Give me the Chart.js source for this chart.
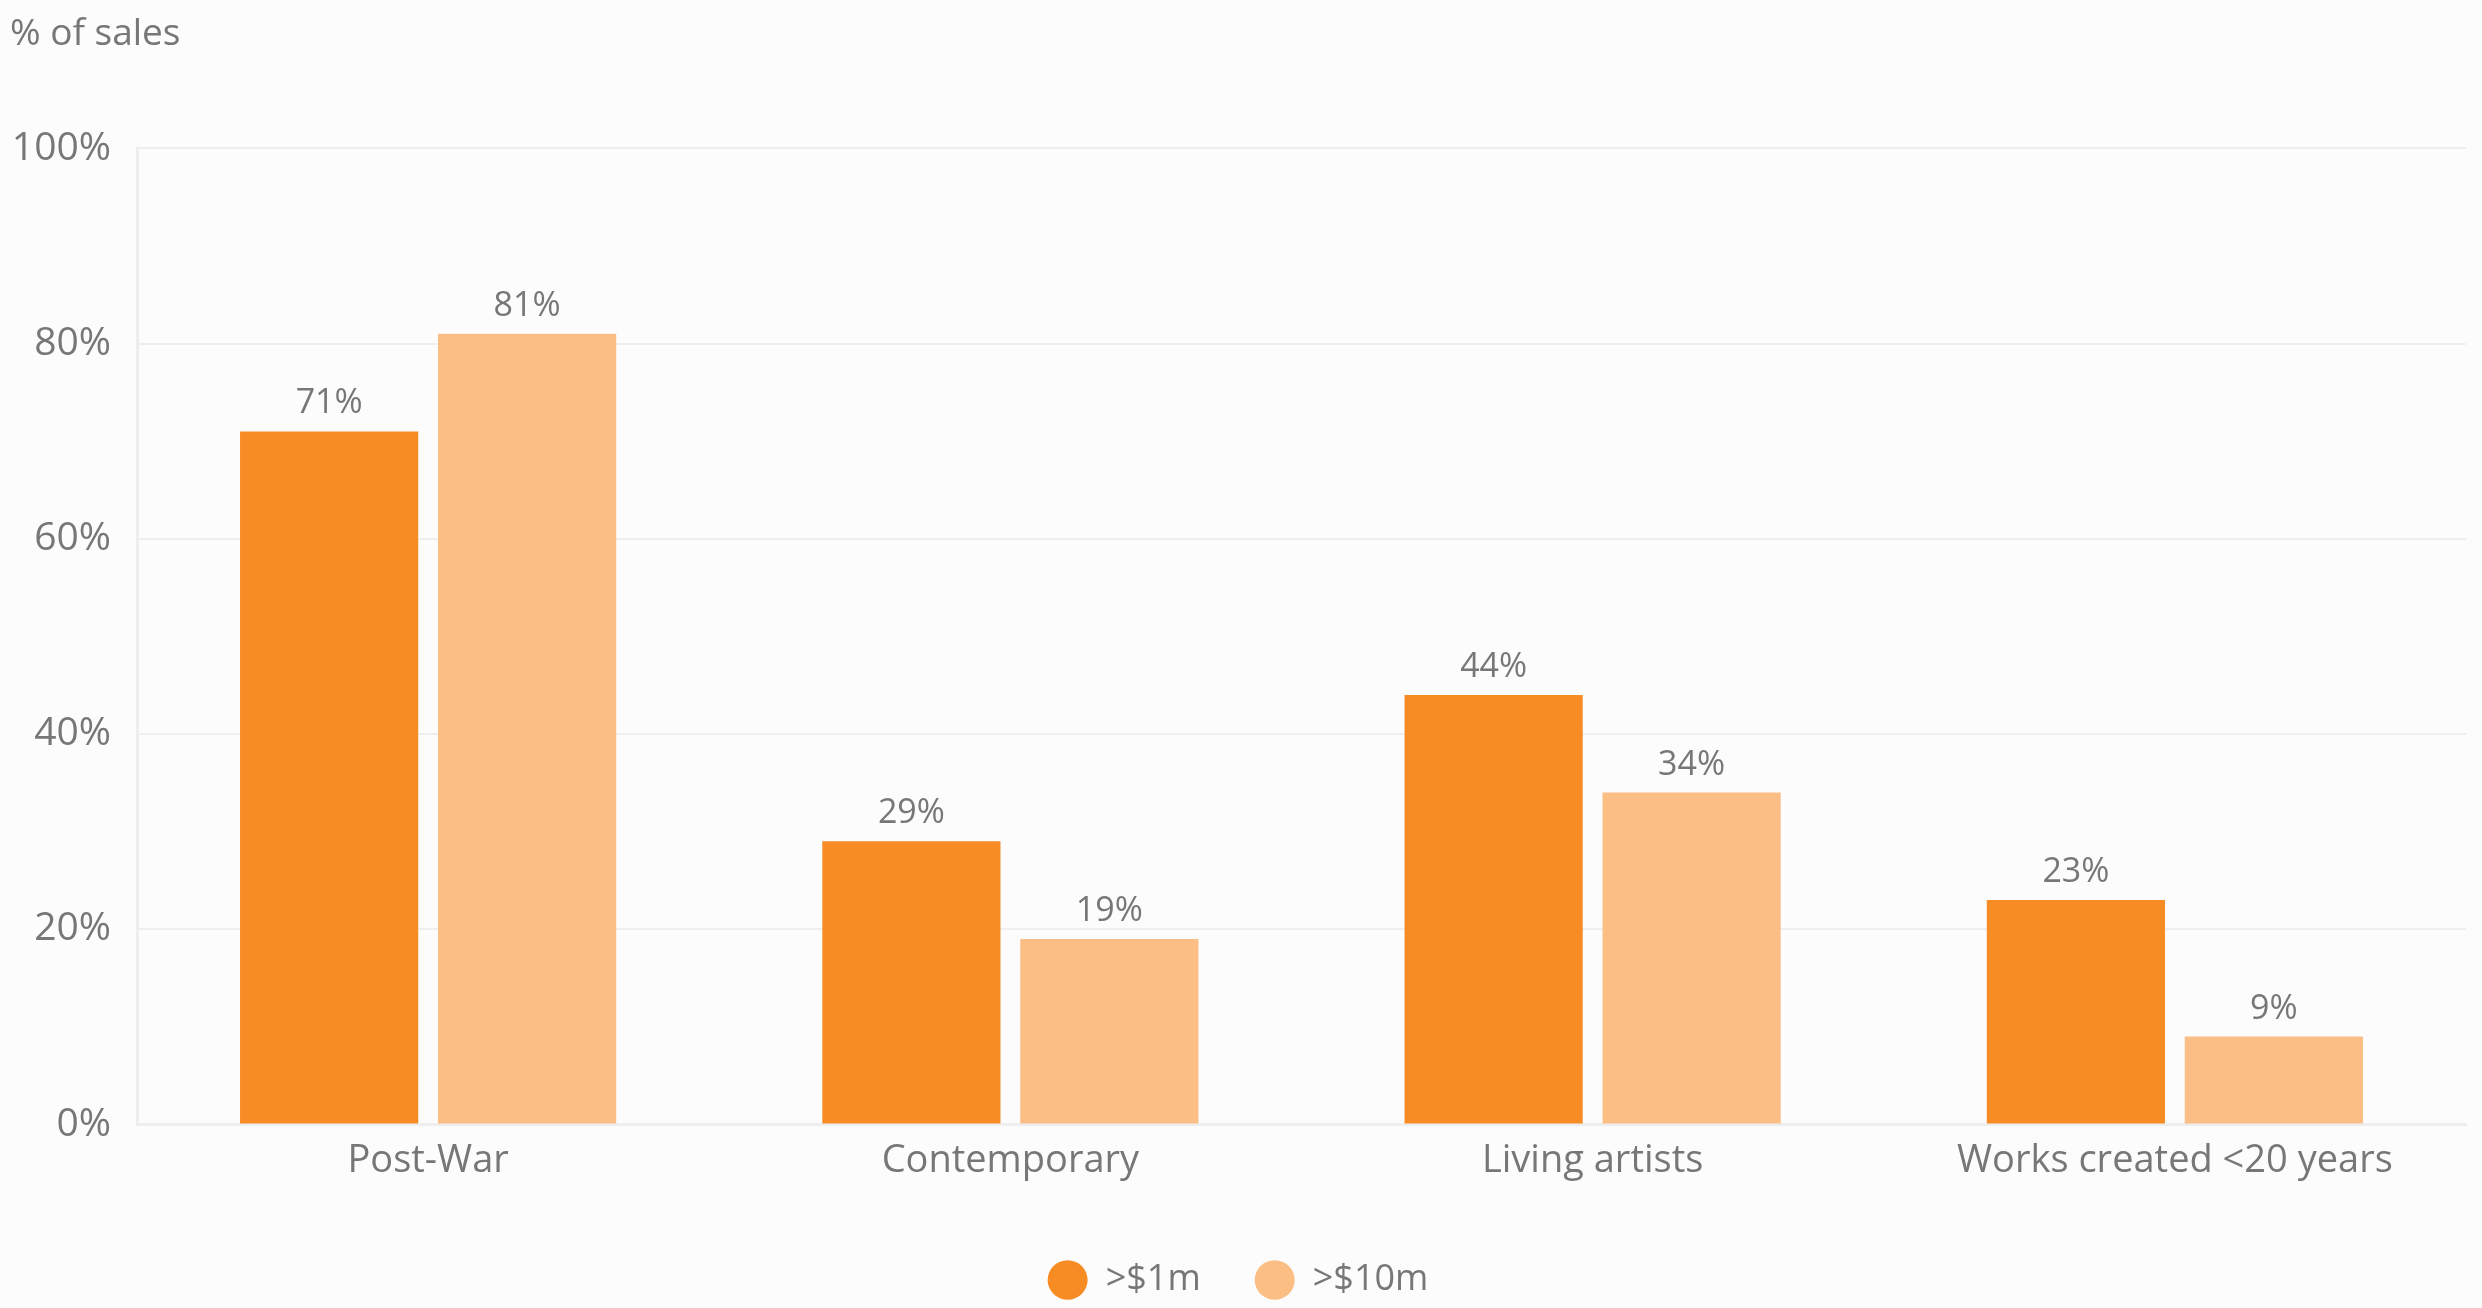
<!DOCTYPE html>
<html>
<head>
<meta charset="utf-8">
<script src="https://cdn.jsdelivr.net/npm/chart.js@4/dist/chart.umd.min.js"></script>
<style>
  html, body { margin: 0; padding: 0; background: #fcfcfc; }
  #wrap { width: 2482px; height: 1308px; }
</style>
</head>
<body>
<div id="wrap"><canvas id="myChart"></canvas></div>
<script>
const categories = ["Post-War", "Contemporary", "Living artists", "Works created <20 years"];
const over1m = [71, 29, 44, 23];
const over10m = [81, 19, 34, 9];
const seriesNames = [">$1m", ">$10m"];
const yTicks = [0, 20, 40, 60, 80, 100];

const grey = "#777777";
const fontFamily = "'Open Sans', 'Noto Sans', sans-serif";

// value labels above each bar
const barLabels = {
  id: "barLabels",
  afterDatasetsDraw(chart) {
    const ctx = chart.ctx;
    ctx.save();
    ctx.font = "34px " + fontFamily;
    ctx.fillStyle = grey;
    ctx.textAlign = "center";
    ctx.textBaseline = "alphabetic";
    chart.data.datasets.forEach(function (ds, i) {
      chart.getDatasetMeta(i).data.forEach(function (bar, j) {
        ctx.fillText(ds.data[j] + "%", bar.x, bar.y - 18);
      });
    });
    ctx.restore();
  },
};

const ctx = document.getElementById("myChart").getContext("2d");
const chart = new Chart(ctx, {
  type: "bar",
  data: {
    labels: categories,
    datasets: [
      { label: seriesNames[0], data: over1m, backgroundColor: "#f78b24" },
      { label: seriesNames[1], data: over10m, backgroundColor: "#fbbe84" },
    ],
  },
  options: {
    responsive: true,
    maintainAspectRatio: false,
    animation: false,
    categoryPercentage: 0.68,
    barPercentage: 0.9,
    layout: { padding: { left: 10, right: 16, bottom: 0 } },
    plugins: {
      tooltip: { enabled: false },
      title: {
        display: true,
        text: "% of sales",
        align: "start",
        color: grey,
        font: { family: fontFamily, size: 37, weight: "normal" },
        padding: { top: 12, bottom: 92 },
      },
      legend: {
        position: "bottom",
        labels: {
          usePointStyle: true,
          pointStyle: "circle",
          boxHeight: 28,
          pointStyleWidth: 40,
          padding: 54,
          color: grey,
          font: { family: fontFamily, size: 36 },
        },
      },
    },
    scales: {
      x: {
        grid: { display: false },
        border: { display: true, color: "#eeeeee", width: 3 },
        ticks: {
          color: grey,
          padding: 6,
          font: { family: fontFamily, size: 38 },
        },
        afterFit(axis) {
          axis.height += 18;
        },
      },
      y: {
        min: 0,
        max: 100,
        afterBuildTicks(axis) {
          axis.ticks = yTicks.map(function (v) { return { value: v }; });
        },
        afterFit(axis) {
          axis.width = 127;
        },
        grid: { color: "#eeeeee", lineWidth: 2, drawTicks: false },
        border: { display: true, color: "#eeeeee", width: 3 },
        ticks: {
          color: grey,
          padding: 26,
          font: { family: fontFamily, size: 39 },
          callback: function (v) { return v + "%"; },
        },
      },
    },
  },
  plugins: [barLabels],
});
</script>
</body>
</html>
